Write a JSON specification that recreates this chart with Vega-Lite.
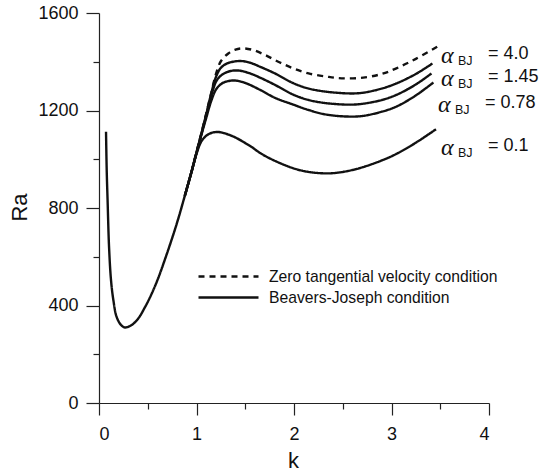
{
  "$schema": "https://vega.github.io/schema/vega-lite/v6.json",
  "width": 390,
  "height": 390,
  "autosize": {"type": "none"},
  "padding": {"left": 99, "top": 13, "right": 58, "bottom": 69},
  "config": {
    "view": {"stroke": null},
    "font": "Liberation Sans",
    "axis": {
      "domainColor": "#222",
      "domainWidth": 1.2,
      "tickColor": "#222",
      "tickWidth": 1.2,
      "labelColor": "#111",
      "labelFont": "Liberation Sans",
      "labelFontSize": 18,
      "titleFont": "Liberation Sans",
      "titleFontSize": 22,
      "titleFontWeight": "normal",
      "titleColor": "#111",
      "grid": false
    }
  },
  "datasets": {
    "curves": [
      {"series": "0.1", "condition": "Beavers-Joseph condition", "k": 0.072, "Ra": 1113},
      {"series": "0.1", "condition": "Beavers-Joseph condition", "k": 0.079, "Ra": 956},
      {"series": "0.1", "condition": "Beavers-Joseph condition", "k": 0.089, "Ra": 819},
      {"series": "0.1", "condition": "Beavers-Joseph condition", "k": 0.103, "Ra": 641},
      {"series": "0.1", "condition": "Beavers-Joseph condition", "k": 0.123, "Ra": 505},
      {"series": "0.1", "condition": "Beavers-Joseph condition", "k": 0.147, "Ra": 423},
      {"series": "0.1", "condition": "Beavers-Joseph condition", "k": 0.18, "Ra": 354},
      {"series": "0.1", "condition": "Beavers-Joseph condition", "k": 0.226, "Ra": 320},
      {"series": "0.1", "condition": "Beavers-Joseph condition", "k": 0.267, "Ra": 310},
      {"series": "0.1", "condition": "Beavers-Joseph condition", "k": 0.335, "Ra": 320},
      {"series": "0.1", "condition": "Beavers-Joseph condition", "k": 0.403, "Ra": 347},
      {"series": "0.1", "condition": "Beavers-Joseph condition", "k": 0.47, "Ra": 392},
      {"series": "0.1", "condition": "Beavers-Joseph condition", "k": 0.54, "Ra": 448},
      {"series": "0.1", "condition": "Beavers-Joseph condition", "k": 0.61, "Ra": 515},
      {"series": "0.1", "condition": "Beavers-Joseph condition", "k": 0.677, "Ra": 590},
      {"series": "0.1", "condition": "Beavers-Joseph condition", "k": 0.745, "Ra": 670},
      {"series": "0.1", "condition": "Beavers-Joseph condition", "k": 0.81, "Ra": 752},
      {"series": "0.1", "condition": "Beavers-Joseph condition", "k": 0.88, "Ra": 850},
      {"series": "0.1", "condition": "Beavers-Joseph condition", "k": 0.95, "Ra": 950},
      {"series": "0.1", "condition": "Beavers-Joseph condition", "k": 1.0, "Ra": 1022},
      {"series": "0.1", "condition": "Beavers-Joseph condition", "k": 1.053, "Ra": 1075},
      {"series": "0.1", "condition": "Beavers-Joseph condition", "k": 1.12, "Ra": 1102},
      {"series": "0.1", "condition": "Beavers-Joseph condition", "k": 1.207, "Ra": 1112},
      {"series": "0.1", "condition": "Beavers-Joseph condition", "k": 1.3, "Ra": 1105},
      {"series": "0.1", "condition": "Beavers-Joseph condition", "k": 1.395, "Ra": 1090},
      {"series": "0.1", "condition": "Beavers-Joseph condition", "k": 1.566, "Ra": 1050},
      {"series": "0.1", "condition": "Beavers-Joseph condition", "k": 1.651, "Ra": 1026},
      {"series": "0.1", "condition": "Beavers-Joseph condition", "k": 1.77, "Ra": 1000},
      {"series": "0.1", "condition": "Beavers-Joseph condition", "k": 1.993, "Ra": 963},
      {"series": "0.1", "condition": "Beavers-Joseph condition", "k": 2.15, "Ra": 948},
      {"series": "0.1", "condition": "Beavers-Joseph condition", "k": 2.335, "Ra": 942},
      {"series": "0.1", "condition": "Beavers-Joseph condition", "k": 2.47, "Ra": 946},
      {"series": "0.1", "condition": "Beavers-Joseph condition", "k": 2.6, "Ra": 956},
      {"series": "0.1", "condition": "Beavers-Joseph condition", "k": 2.71, "Ra": 968},
      {"series": "0.1", "condition": "Beavers-Joseph condition", "k": 2.9, "Ra": 995},
      {"series": "0.1", "condition": "Beavers-Joseph condition", "k": 3.05, "Ra": 1022},
      {"series": "0.1", "condition": "Beavers-Joseph condition", "k": 3.25, "Ra": 1068},
      {"series": "0.1", "condition": "Beavers-Joseph condition", "k": 3.456, "Ra": 1123},

      {"series": "0.78", "condition": "Beavers-Joseph condition", "k": 0.88, "Ra": 850},
      {"series": "0.78", "condition": "Beavers-Joseph condition", "k": 0.95, "Ra": 950},
      {"series": "0.78", "condition": "Beavers-Joseph condition", "k": 1.0, "Ra": 1025},
      {"series": "0.78", "condition": "Beavers-Joseph condition", "k": 1.05, "Ra": 1100},
      {"series": "0.78", "condition": "Beavers-Joseph condition", "k": 1.1, "Ra": 1170},
      {"series": "0.78", "condition": "Beavers-Joseph condition", "k": 1.15, "Ra": 1238},
      {"series": "0.78", "condition": "Beavers-Joseph condition", "k": 1.2, "Ra": 1286},
      {"series": "0.78", "condition": "Beavers-Joseph condition", "k": 1.25, "Ra": 1308},
      {"series": "0.78", "condition": "Beavers-Joseph condition", "k": 1.3, "Ra": 1318},
      {"series": "0.78", "condition": "Beavers-Joseph condition", "k": 1.395, "Ra": 1323},
      {"series": "0.78", "condition": "Beavers-Joseph condition", "k": 1.5, "Ra": 1313},
      {"series": "0.78", "condition": "Beavers-Joseph condition", "k": 1.651, "Ra": 1285},
      {"series": "0.78", "condition": "Beavers-Joseph condition", "k": 1.805, "Ra": 1252},
      {"series": "0.78", "condition": "Beavers-Joseph condition", "k": 1.993, "Ra": 1224},
      {"series": "0.78", "condition": "Beavers-Joseph condition", "k": 2.15, "Ra": 1202},
      {"series": "0.78", "condition": "Beavers-Joseph condition", "k": 2.335, "Ra": 1183},
      {"series": "0.78", "condition": "Beavers-Joseph condition", "k": 2.574, "Ra": 1175},
      {"series": "0.78", "condition": "Beavers-Joseph condition", "k": 2.71, "Ra": 1178},
      {"series": "0.78", "condition": "Beavers-Joseph condition", "k": 2.9, "Ra": 1195},
      {"series": "0.78", "condition": "Beavers-Joseph condition", "k": 3.05, "Ra": 1216},
      {"series": "0.78", "condition": "Beavers-Joseph condition", "k": 3.25, "Ra": 1262},
      {"series": "0.78", "condition": "Beavers-Joseph condition", "k": 3.43, "Ra": 1315},

      {"series": "1.45", "condition": "Beavers-Joseph condition", "k": 0.88, "Ra": 850},
      {"series": "1.45", "condition": "Beavers-Joseph condition", "k": 0.95, "Ra": 950},
      {"series": "1.45", "condition": "Beavers-Joseph condition", "k": 1.0, "Ra": 1027},
      {"series": "1.45", "condition": "Beavers-Joseph condition", "k": 1.05, "Ra": 1103},
      {"series": "1.45", "condition": "Beavers-Joseph condition", "k": 1.1, "Ra": 1180},
      {"series": "1.45", "condition": "Beavers-Joseph condition", "k": 1.15, "Ra": 1258},
      {"series": "1.45", "condition": "Beavers-Joseph condition", "k": 1.2, "Ra": 1318},
      {"series": "1.45", "condition": "Beavers-Joseph condition", "k": 1.25, "Ra": 1343},
      {"series": "1.45", "condition": "Beavers-Joseph condition", "k": 1.33, "Ra": 1360},
      {"series": "1.45", "condition": "Beavers-Joseph condition", "k": 1.43, "Ra": 1364},
      {"series": "1.45", "condition": "Beavers-Joseph condition", "k": 1.55, "Ra": 1352},
      {"series": "1.45", "condition": "Beavers-Joseph condition", "k": 1.651, "Ra": 1335},
      {"series": "1.45", "condition": "Beavers-Joseph condition", "k": 1.805, "Ra": 1305},
      {"series": "1.45", "condition": "Beavers-Joseph condition", "k": 1.993, "Ra": 1265},
      {"series": "1.45", "condition": "Beavers-Joseph condition", "k": 2.15, "Ra": 1243},
      {"series": "1.45", "condition": "Beavers-Joseph condition", "k": 2.335, "Ra": 1230},
      {"series": "1.45", "condition": "Beavers-Joseph condition", "k": 2.574, "Ra": 1224},
      {"series": "1.45", "condition": "Beavers-Joseph condition", "k": 2.71, "Ra": 1228},
      {"series": "1.45", "condition": "Beavers-Joseph condition", "k": 2.9, "Ra": 1243},
      {"series": "1.45", "condition": "Beavers-Joseph condition", "k": 3.05, "Ra": 1264},
      {"series": "1.45", "condition": "Beavers-Joseph condition", "k": 3.25, "Ra": 1307},
      {"series": "1.45", "condition": "Beavers-Joseph condition", "k": 3.41, "Ra": 1352},

      {"series": "4.0", "condition": "Beavers-Joseph condition", "k": 0.88, "Ra": 850},
      {"series": "4.0", "condition": "Beavers-Joseph condition", "k": 0.95, "Ra": 950},
      {"series": "4.0", "condition": "Beavers-Joseph condition", "k": 1.0, "Ra": 1028},
      {"series": "4.0", "condition": "Beavers-Joseph condition", "k": 1.05, "Ra": 1105},
      {"series": "4.0", "condition": "Beavers-Joseph condition", "k": 1.1, "Ra": 1185},
      {"series": "4.0", "condition": "Beavers-Joseph condition", "k": 1.15, "Ra": 1268},
      {"series": "4.0", "condition": "Beavers-Joseph condition", "k": 1.2, "Ra": 1338},
      {"series": "4.0", "condition": "Beavers-Joseph condition", "k": 1.25, "Ra": 1375},
      {"series": "4.0", "condition": "Beavers-Joseph condition", "k": 1.32, "Ra": 1394},
      {"series": "4.0", "condition": "Beavers-Joseph condition", "k": 1.446, "Ra": 1403},
      {"series": "4.0", "condition": "Beavers-Joseph condition", "k": 1.55, "Ra": 1396},
      {"series": "4.0", "condition": "Beavers-Joseph condition", "k": 1.66, "Ra": 1378},
      {"series": "4.0", "condition": "Beavers-Joseph condition", "k": 1.805, "Ra": 1352},
      {"series": "4.0", "condition": "Beavers-Joseph condition", "k": 1.993, "Ra": 1312},
      {"series": "4.0", "condition": "Beavers-Joseph condition", "k": 2.15, "Ra": 1290},
      {"series": "4.0", "condition": "Beavers-Joseph condition", "k": 2.335, "Ra": 1277},
      {"series": "4.0", "condition": "Beavers-Joseph condition", "k": 2.574, "Ra": 1270},
      {"series": "4.0", "condition": "Beavers-Joseph condition", "k": 2.71, "Ra": 1273},
      {"series": "4.0", "condition": "Beavers-Joseph condition", "k": 2.9, "Ra": 1290},
      {"series": "4.0", "condition": "Beavers-Joseph condition", "k": 3.05, "Ra": 1311},
      {"series": "4.0", "condition": "Beavers-Joseph condition", "k": 3.25, "Ra": 1350},
      {"series": "4.0", "condition": "Beavers-Joseph condition", "k": 3.42, "Ra": 1393},

      {"series": "zero", "condition": "Zero tangential velocity condition", "k": 0.95, "Ra": 950},
      {"series": "zero", "condition": "Zero tangential velocity condition", "k": 1.0, "Ra": 1030},
      {"series": "zero", "condition": "Zero tangential velocity condition", "k": 1.05, "Ra": 1107},
      {"series": "zero", "condition": "Zero tangential velocity condition", "k": 1.1, "Ra": 1188},
      {"series": "zero", "condition": "Zero tangential velocity condition", "k": 1.15, "Ra": 1270},
      {"series": "zero", "condition": "Zero tangential velocity condition", "k": 1.2, "Ra": 1350},
      {"series": "zero", "condition": "Zero tangential velocity condition", "k": 1.25, "Ra": 1402},
      {"series": "zero", "condition": "Zero tangential velocity condition", "k": 1.326, "Ra": 1434},
      {"series": "zero", "condition": "Zero tangential velocity condition", "k": 1.4, "Ra": 1450},
      {"series": "zero", "condition": "Zero tangential velocity condition", "k": 1.48, "Ra": 1455},
      {"series": "zero", "condition": "Zero tangential velocity condition", "k": 1.58, "Ra": 1448},
      {"series": "zero", "condition": "Zero tangential velocity condition", "k": 1.703, "Ra": 1428},
      {"series": "zero", "condition": "Zero tangential velocity condition", "k": 1.85, "Ra": 1398},
      {"series": "zero", "condition": "Zero tangential velocity condition", "k": 1.993, "Ra": 1373},
      {"series": "zero", "condition": "Zero tangential velocity condition", "k": 2.15, "Ra": 1352},
      {"series": "zero", "condition": "Zero tangential velocity condition", "k": 2.335, "Ra": 1339},
      {"series": "zero", "condition": "Zero tangential velocity condition", "k": 2.489, "Ra": 1332},
      {"series": "zero", "condition": "Zero tangential velocity condition", "k": 2.71, "Ra": 1335},
      {"series": "zero", "condition": "Zero tangential velocity condition", "k": 2.9, "Ra": 1350},
      {"series": "zero", "condition": "Zero tangential velocity condition", "k": 3.05, "Ra": 1373},
      {"series": "zero", "condition": "Zero tangential velocity condition", "k": 3.25, "Ra": 1412},
      {"series": "zero", "condition": "Zero tangential velocity condition", "k": 3.5, "Ra": 1469}
    ],
    "labels": [
      {"k": 3.508, "Ra": 1395, "val": "= 4.0"},
      {"k": 3.508, "Ra": 1301, "val": "= 1.45"},
      {"k": 3.477, "Ra": 1194, "val": "= 0.78"},
      {"k": 3.508, "Ra": 1017, "val": "= 0.1"}
    ]
  },
  "layer": [
    {
      "data": {"name": "curves"},
      "mark": {"type": "line", "interpolate": "catmull-rom", "strokeWidth": 2.4, "color": "#111"},
      "encoding": {
        "x": {"field": "k", "type": "quantitative", "scale": {"domain": [0, 4]},
              "axis": {"orient": "bottom", "values": [0, 0.5, 1, 1.5, 2, 2.5, 3, 3.5, 4],
                       "labelExpr": "datum.value % 1 === 0 ? format(datum.value, 'd') : ''",
                       "tickSize": {"condition": {"test": "datum.value % 1 !== 0", "value": 6}, "value": 12},
                       "labelPadding": 10, "title": "k", "titleX": 194, "titleY": 64, "titleBaseline": "alphabetic", "titleAlign": "center"}},
        "y": {"field": "Ra", "type": "quantitative", "scale": {"domain": [0, 1600]},
              "axis": {"orient": "left", "values": [0, 200, 400, 600, 800, 1000, 1200, 1400, 1600],
                       "labelExpr": "datum.value % 400 === 0 ? format(datum.value, 'd') : ''",
                       "tickSize": {"condition": {"test": "datum.value % 400 !== 0", "value": 6}, "value": 13},
                       "labelPadding": 8, "title": "Ra", "titleX": -80, "titleY": 194, "titleAngle": -90, "titleAlign": "center", "titleBaseline": "middle"}},
        "strokeDash": {
          "field": "condition", "type": "nominal",
          "scale": {"domain": ["Zero tangential velocity condition", "Beavers-Joseph condition"], "range": [[6, 5], [1, 0]]},
          "legend": {"orient": "none", "legendX": 118, "legendY": 252, "title": null, "padding": 0,
                     "symbolType": "M-3,0H3", "symbolSize": 400, "symbolStrokeWidth": 2.4, "symbolStrokeColor": "#111", "symbolFillColor": "transparent",
                     "labelFontSize": 15.7, "labelColor": "#111", "labelOffset": 29, "labelLimit": 400, "rowPadding": 1}
        },
        "detail": {"field": "series"}
      }
    },
    {
      "data": {"name": "labels"},
      "mark": {"type": "text", "align": "left", "baseline": "alphabetic", "font": "Liberation Serif", "fontStyle": "italic", "fontSize": 24, "color": "#111"},
      "encoding": {
        "x": {"field": "k", "type": "quantitative"},
        "y": {"field": "Ra", "type": "quantitative"},
        "text": {"value": "α"}
      }
    },
    {
      "data": {"name": "labels"},
      "mark": {"type": "text", "align": "left", "baseline": "alphabetic", "fontSize": 12.5, "dx": 17, "dy": 2, "color": "#111"},
      "encoding": {
        "x": {"field": "k", "type": "quantitative"},
        "y": {"field": "Ra", "type": "quantitative"},
        "text": {"value": "BJ"}
      }
    },
    {
      "data": {"name": "labels"},
      "mark": {"type": "text", "align": "left", "baseline": "alphabetic", "fontSize": 18, "dx": 47, "dy": -4, "color": "#111"},
      "encoding": {
        "x": {"field": "k", "type": "quantitative"},
        "y": {"field": "Ra", "type": "quantitative"},
        "text": {"field": "val"}
      }
    }
  ]
}
